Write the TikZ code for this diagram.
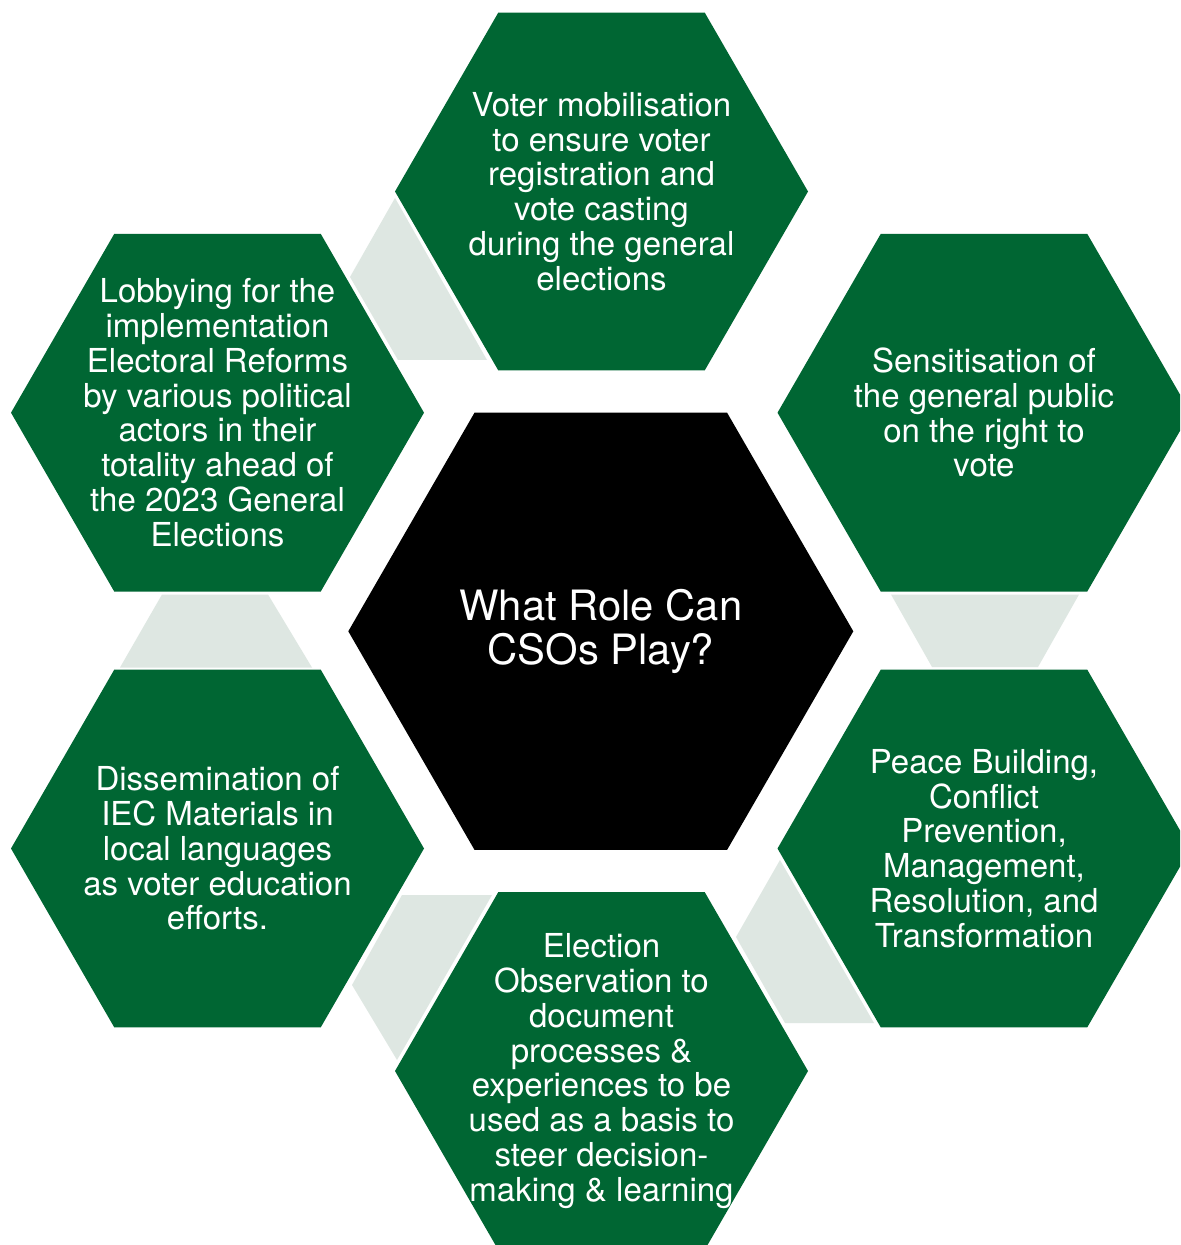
\documentclass[tikz,border=0pt]{standalone}
\usepackage{fontspec}
\setmainfont{TeX Gyre Heros}
\definecolor{hexgreen}{RGB}{0,102,51}
\definecolor{linkgray}{RGB}{222,231,226}
\newcommand\HexShape[4]{\fill[#4] (#1,#2) +(0:#3) -- +(60:#3) -- +(120:#3) -- +(180:#3) -- +(240:#3) -- +(300:#3) -- cycle;}
\tikzset{
  outertext/.style={text=white, align=center, inner sep=0pt, font=\fontsize{16.5pt}{17.4pt}\selectfont},
  centertext/.style={text=white, align=center, inner sep=0pt, font=\fontsize{20.9pt}{22pt}\selectfont},
  link/.style={fill=linkgray}
}
\begin{document}
\begin{tikzpicture}[x=0.5pt,y=-0.5pt]
\useasboundingbox (0,0) rectangle (1180,1245);
\fill[white] (0,0) rectangle (1180,1245);
\clip (0,0) rectangle (1180,1245);
% connectors
\path[link] (395,198) -- (350,277) -- (398,360) -- (487,360) -- cycle;
\path[link] (162,594.5) -- (268,594.5) -- (312,667.5) -- (120,667.5) -- cycle;
\path[link] (402,895) -- (492,895) -- (397,1060) -- (352,985) -- cycle;
\path[link] (780,860) -- (736,937) -- (785,1023) -- (874,1023) -- cycle;
\path[link] (891,594.5) -- (1079,594.5) -- (1038,667) -- (932,667) -- cycle;
% hexagons
\HexShape{600.8}{631.3}{252.5}{black}
\HexShape{601.5}{191.5}{206.5}{hexgreen}
\HexShape{217.5}{412.7}{206.5}{hexgreen}
\HexShape{984}{412.7}{206.5}{hexgreen}
\HexShape{217.5}{848.5}{206.5}{hexgreen}
\HexShape{984}{848.5}{206.5}{hexgreen}
\HexShape{601.5}{1071}{206.5}{hexgreen}
% texts
\node[centertext] (c) at (600.8,631.3) {What Role Can\\CSOs Play?};
\node[outertext] (t) at (601.5,191.5) {Voter mobilisation\\to ensure voter\\registration and\\vote casting\\during the general\\elections};
\node[outertext] (tl) at (217.5,412.7) {Lobbying for the\\implementation\\Electoral Reforms\\by various political\\actors in their\\totality ahead of\\the 2023 General\\Elections};
\node[outertext] (tr) at (984,412.7) {Sensitisation of\\the general public\\on the right to\\vote};
\node[outertext] (br) at (984,848.5) {Peace Building,\\Conflict\\Prevention,\\Management,\\Resolution, and\\Transformation};
\node[outertext] (b) at (601.5,1071) {Election\\Observation to\\document\\processes \&\\experiences to be\\used as a basis to\\steer decision-\\making \& learning};
\node[outertext] (bl) at (217.5,848.5) {Dissemination of\\IEC Materials in\\local languages\\as voter education\\efforts.};
\end{tikzpicture}
\end{document}
